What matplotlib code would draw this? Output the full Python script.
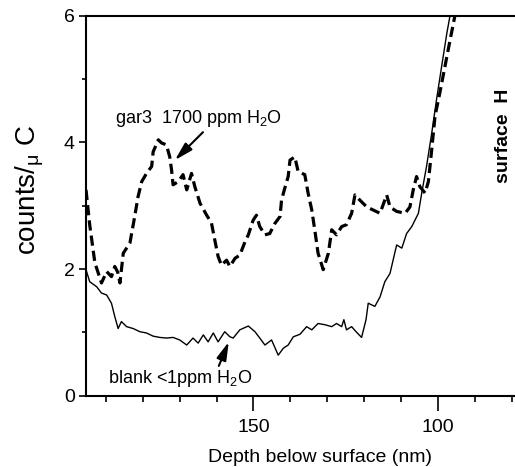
import matplotlib.pyplot as plt

plt.rcParams['font.family'] = ['Liberation Sans', 'DejaVu Sans']
plt.rcParams['mathtext.fontset'] = 'custom'
plt.rcParams['mathtext.rm'] = 'Liberation Sans'
plt.rcParams['mathtext.it'] = 'Liberation Sans:italic'
plt.rcParams['mathtext.bf'] = 'Liberation Sans:bold'

# gar3 sample, 1700 ppm H2O (dashed)
gar3_depth = [195.4, 195.2, 194.4, 193.0, 191.2, 189.8, 188.5, 187.6, 186.8, 186.2,
              185.3, 183.5, 182.2, 181.3, 180.3, 179.0, 177.6, 177.2, 175.8, 174.9,
              173.6, 172.7, 172.2, 171.8, 170.4, 169.1, 168.1, 166.8, 165.9, 164.5,
              162.7, 161.4, 160.5, 159.6, 158.7, 157.3, 156.4, 155.0, 153.7, 152.3,
              151.4, 150.1, 149.2, 148.3, 146.9, 145.6, 144.2, 142.8, 142.4, 141.5,
              140.6, 140.1, 138.8, 137.9, 136.1, 135.2, 134.2, 133.4, 132.5, 131.1,
              129.7, 128.8, 127.5, 126.1, 124.8, 123.4, 122.5, 121.2, 119.3, 117.5,
              115.7, 113.9, 113.0, 111.2, 108.9, 107.6, 106.7, 105.8, 104.9, 103.5,
              102.6, 101.7, 100.8, 99.5, 98.1, 96.7, 95.4]
gar3_counts = [3.25, 3.14, 2.70, 2.10, 1.78, 1.96, 1.88, 2.04, 1.95, 1.78,
               2.25, 2.41, 2.83, 3.14, 3.38, 3.51, 3.62, 3.85, 4.04, 3.99,
               3.96, 3.77, 3.56, 3.33, 3.38, 3.49, 3.25, 3.51, 3.30, 3.04,
               2.85, 2.73, 2.46, 2.20, 2.06, 2.14, 2.04, 2.17, 2.22, 2.43,
               2.54, 2.77, 2.85, 2.67, 2.54, 2.56, 2.72, 2.83, 3.09, 3.28,
               3.46, 3.72, 3.77, 3.54, 3.49, 3.20, 2.93, 2.62, 2.25, 1.99,
               2.25, 2.62, 2.54, 2.67, 2.70, 2.88, 3.17, 3.09, 2.98, 2.93,
               2.88, 3.17, 2.98, 2.91, 2.88, 2.98, 3.25, 3.46, 3.30, 3.20,
               3.38, 3.88, 4.41, 4.78, 5.20, 5.62, 6.00]

# blank, <1 ppm H2O (solid)
blank_depth = [195.4, 194.4, 192.5, 191.2, 189.8, 188.5, 187.6, 186.7, 185.8, 184.4,
               182.6, 180.8, 179.0, 177.2, 175.4, 173.6, 171.8, 170.0, 168.1, 166.4,
               165.0, 163.6, 162.3, 160.9, 159.6, 157.8, 156.4, 155.5, 153.7, 151.4,
               149.6, 148.3, 146.9, 145.1, 143.3, 141.9, 140.6, 139.2, 137.4, 135.6,
               134.2, 132.5, 130.6, 128.8, 127.5, 126.1, 125.5, 124.8, 123.4, 122.2,
               120.7, 119.5, 118.9, 117.1, 115.7, 114.4, 113.0, 111.2, 109.8, 108.5,
               107.1, 105.3, 104.4, 103.1, 101.7, 100.4, 99.0, 97.6, 96.7]
blank_counts = [1.99, 1.80, 1.72, 1.62, 1.59, 1.46, 1.25, 1.06, 1.17, 1.09,
                1.06, 1.01, 0.99, 0.94, 0.92, 0.91, 0.92, 0.88, 0.80, 0.91,
                0.83, 0.96, 0.85, 0.99, 0.85, 1.01, 0.93, 0.91, 1.04, 1.10,
                1.01, 0.91, 0.80, 0.88, 0.64, 0.75, 0.80, 0.93, 0.97, 1.09,
                1.04, 1.14, 1.12, 1.09, 1.14, 1.09, 1.20, 1.04, 1.09, 1.01,
                0.92, 1.20, 1.46, 1.41, 1.56, 1.80, 1.93, 2.38, 2.33, 2.56,
                2.67, 2.88, 3.20, 3.62, 4.14, 4.67, 5.20, 5.72, 6.01]

#figure
fig = plt.figure(figsize=(5.15, 4.67), dpi=100)
ax = fig.add_axes([0.167, 0.1527, 0.8367, 0.8137])

ax.plot(gar3_depth, gar3_counts, color='black', lw=2.3, dashes=(3.2, 1.6))
ax.plot(blank_depth, blank_counts, color='black', lw=1.0)

ax.set_xlim(195.4, 78.6)
ax.set_ylim(0, 6)
ax.set_xticks([150, 100])
ax.set_xticks(range(80, 200, 10), minor=True)
ax.set_yticks([0, 2, 4, 6])
ax.set_yticks([1, 3, 5], minor=True)

for s in ax.spines.values():
    s.set_linewidth(1.5)
ax.tick_params(axis='x', which='major', length=11, width=1.2, pad=6, labelsize=14)
ax.tick_params(axis='x', which='minor', length=4.5, width=1.2)
ax.tick_params(axis='y', which='major', length=5, width=1.2, pad=3, labelsize=14)
ax.tick_params(axis='y', which='minor', length=3, width=1.2)

#labels
fig.text(30 / 515, 1 - 190 / 467, 'counts/$_{\\mathrm{\\mu}}$ C', rotation=90,
         ha='center', va='center', fontsize=20)
fig.text(320 / 515, 5 / 467, 'Depth below surface (nm)', ha='center',
         va='baseline', fontsize=14)
fig.text(503 / 515, 1 - 136 / 467, 'surface  H', rotation=90, ha='center',
         va='center', fontsize=14, fontweight='bold')

#annotations
ax.text(187.6, 4.31, 'gar3  1700 ppm H$_2$O', fontsize=13, ha='left', va='baseline')
ax.annotate('', xy=(171.3, 3.72), xytext=(163.7, 4.16),
            arrowprops=dict(arrowstyle='-|>,head_length=1.1,head_width=0.3',
                            color='black', lw=1.5, shrinkA=0, shrinkB=0,
                            mutation_scale=10))
ax.text(189.5, 0.20, 'blank <1ppm H$_2$O', fontsize=13, ha='left', va='baseline')
ax.annotate('', xy=(156.7, 0.85), xytext=(159.4, 0.47),
            arrowprops=dict(arrowstyle='-|>,head_length=1.1,head_width=0.3',
                            color='black', lw=1.5, shrinkA=0, shrinkB=0,
                            mutation_scale=10))

plt.savefig('out.png', dpi=100)
